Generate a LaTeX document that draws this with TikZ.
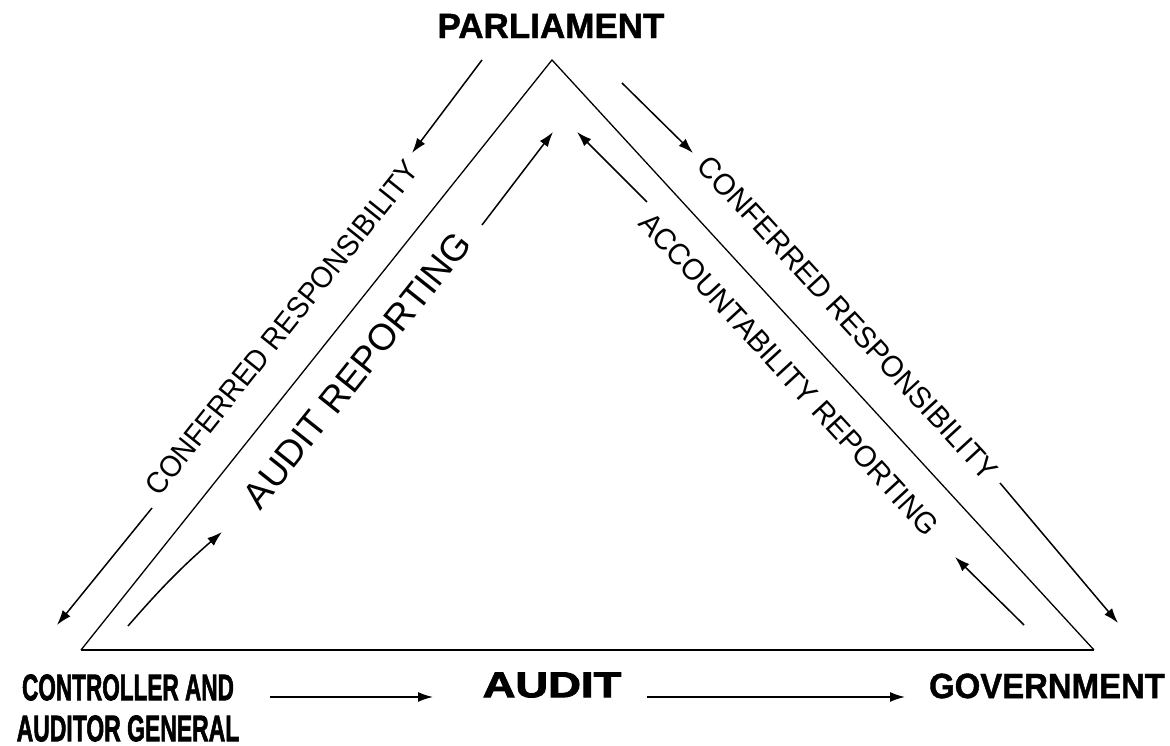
\documentclass[tikz,border=0pt]{standalone}
\usepackage{fontspec}
\setmainfont{Liberation Sans}
\newfontfamily\heavysans{Liberation Sans}[BoldFeatures={FakeBold=1.2}]
\newfontfamily\blacksans{Liberation Sans}[BoldFeatures={FakeBold=2.2}]
\usetikzlibrary{arrows.meta}

\tikzset{
    side/.style={line width=1.3pt},
    base/.style={line width=2.2pt},
    flow/.style={-{Latex[length=15pt,width=10pt]}, line width=1.5pt},
    sidelabel/.style={inner sep=0pt, font=\fontsize{30}{36}\selectfont},
    bigname/.style={inner sep=0pt, font=\fontsize{35}{41}\selectfont\heavysans\bfseries},
}

\begin{document}
\begin{tikzpicture}

        \useasboundingbox (0pt,0pt) rectangle (1170pt,746pt);

        % Corners of the triangle
        \coordinate (top) at (552pt,686pt);
        \coordinate (left) at (81pt,96pt);
        \coordinate (right) at (1094pt,96pt);

        % Text Nodes (without boxes)
        \node (parliament) [bigname] at (551pt,720pt) {PARLIAMENT};
        \node (government) [bigname] at (1047pt,60pt) {\scalebox{0.94}[1]{GOVERNMENT}};
        \node (audit) [bigname, font=\fontsize{36}{41}\selectfont\blacksans\bfseries] at (552pt,61pt) {\scalebox{1.26}[1]{AUDIT}};
        \node (cag) [bigname, align=center, font=\fontsize{37}{41}\selectfont\blacksans\bfseries] at (128pt,38pt) {\scalebox{0.61}[1]{CONTROLLER AND}\\\scalebox{0.62}[1]{AUDITOR GENERAL}};

        % Labels along the sides
        \node (conferredleft) [sidelabel, rotate=51.4] at (282pt,418pt) {\scalebox{0.94}[1]{CONFERRED RESPONSIBILITY}};
        \node (auditreporting) [sidelabel, rotate=51.4, font=\fontsize{37}{42}\selectfont] at (357pt,376pt) {AUDIT REPORTING};
        \node (conferredright) [sidelabel, rotate=-47.4] at (848pt,428pt) {\scalebox{0.96}[1]{CONFERRED RESPONSIBILITY}};
        \node (accountability) [sidelabel, rotate=-47.4] at (789pt,372pt) {\scalebox{0.96}[1]{ACCOUNTABILITY REPORTING}};

        % Arrow end points
        \coordinate (l1s) at (482pt,686pt);  \coordinate (l1e) at (412pt,593pt);
        \coordinate (l2s) at (152pt,238pt);  \coordinate (l2e) at (57pt,121pt);
        \coordinate (il1s) at (128pt,120pt); \coordinate (il1e) at (222pt,214pt);
        \coordinate (il2s) at (482pt,521pt); \coordinate (il2e) at (553pt,614pt);
        \coordinate (r1s) at (622pt,663pt);  \coordinate (r1e) at (693pt,593pt);
        \coordinate (r2s) at (1000pt,263pt); \coordinate (r2e) at (1118pt,123pt);
        \coordinate (ir1s) at (1024pt,121pt); \coordinate (ir1e) at (955pt,189pt);
        \coordinate (ir2s) at (647pt,544pt); \coordinate (ir2e) at (577pt,614pt);
        \coordinate (b1s) at (270pt,49pt);   \coordinate (b1e) at (433pt,49pt);
        \coordinate (b2s) at (647pt,49pt);   \coordinate (b2e) at (905pt,49pt);

        % Triangle
        \draw[side] (left) -- (top) -- (right);
        \draw[base] (left) -- (right);

        % Arrows
        \draw[flow] (l1s) -- (l1e);
        \draw[flow] (l2s) -- (l2e);
        \draw[flow] (il1s) to[bend left=4] (il1e);
        \draw[flow] (il2s) -- (il2e);
        \draw[flow] (r1s) -- (r1e);
        \draw[flow] (r2s) -- (r2e);
        \draw[flow] (ir1s) -- (ir1e);
        \draw[flow] (ir2s) -- (ir2e);
        \draw[flow] (b1s) -- (b1e);
        \draw[flow] (b2s) -- (b2e);

    \end{tikzpicture}
\end{document}
